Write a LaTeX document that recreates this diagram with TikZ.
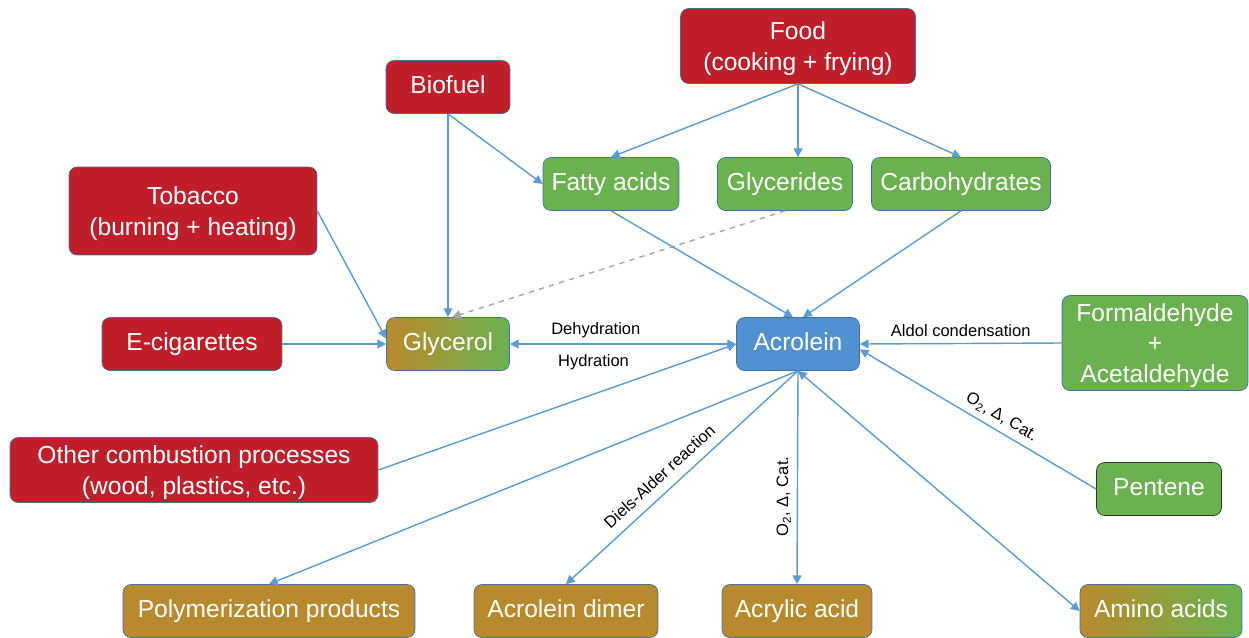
\documentclass[tikz,border=0pt]{standalone}
\usepackage{fontspec}
\setmainfont{Liberation Sans}
\usetikzlibrary{arrows.meta}

\definecolor{srcred}{RGB}{192,31,41}
\definecolor{midgreen}{RGB}{106,178,80}
\definecolor{prodgold}{RGB}{185,138,45}
\definecolor{acroblue}{RGB}{82,145,209}
\definecolor{lineblue}{RGB}{91,155,213}
\definecolor{edgeblue}{RGB}{65,113,156}

\begin{document}
\begin{tikzpicture}[x=0.02cm,y=-0.02cm]

\tikzstyle{boxnode} = [draw=edgeblue,thin,rounded corners=0.16cm,text=white,align=center,font=\fontsize{14}{17.5}\selectfont,minimum height=1.06cm,inner sep=0pt];
\tikzstyle{oneline} = [text height=0.72em,text depth=0pt];
\tikzstyle{manyline} = [text depth=0pt];
\tikzstyle{sourcenode} = [boxnode,fill=srcred];
\tikzstyle{midnode} = [boxnode,fill=midgreen];
\tikzstyle{productnode} = [boxnode,oneline,fill=prodgold];
\tikzstyle{mixnode} = [boxnode,oneline,left color=prodgold,right color=midgreen];
\tikzstyle{flow} = [-{Triangle[length=5pt,width=5pt]},line width=0.8pt,draw=lineblue];
\tikzstyle{twoflow} = [{Triangle[length=5pt,width=5pt]}-{Triangle[length=5pt,width=5pt]},line width=0.8pt,draw=lineblue];
\tikzstyle{steplabel} = [font=\fontsize{9.4}{11}\selectfont,text=black];

\useasboundingbox (0,0) rectangle (1249,637);

% sources
\node [sourcenode,manyline,minimum width=4.7cm,minimum height=1.5cm] (food) at (798,46) {Food\\(cooking + frying)};
\node [sourcenode,oneline,minimum width=2.48cm] (biofuel) at (448,87) {Biofuel};
\node [sourcenode,manyline,minimum width=4.96cm,minimum height=1.76cm] (tobacco) at (193,211) {Tobacco\\(burning + heating)};
\node [sourcenode,oneline,minimum width=3.6cm] (ecig) at (192,344) {E-cigarettes};
\node [sourcenode,manyline,minimum width=7.36cm,minimum height=1.3cm] (combust) at (194,470) {Other combustion processes\\(wood, plastics, etc.)};

% precursors
\node [midnode,oneline,minimum width=2.72cm] (fatty) at (611,184) {Fatty acids};
\node [midnode,oneline,minimum width=2.7cm] (glycerides) at (785,184) {Glycerides};
\node [midnode,oneline,minimum width=3.58cm] (carbo) at (961,184) {Carbohydrates};
\node [mixnode,minimum width=2.46cm] (glycerol) at (448,344) {Glycerol};
\node [boxnode,oneline,fill=acroblue,minimum width=2.46cm] (acrolein) at (798,344) {Acrolein};
\node [midnode,manyline,minimum width=3.72cm,minimum height=1.9cm] (formal) at (1155,343) {Formaldehyde\\+\\Acetaldehyde};
\node [midnode,oneline,draw=black!80,minimum width=2.5cm] (pentene) at (1159,489) {Pentene};

% products
\node [productnode,minimum width=5.84cm] (polymer) at (269,611) {Polymerization products};
\node [productnode,minimum width=3.68cm] (dimer) at (566,611) {Acrolein dimer};
\node [productnode,minimum width=3cm] (acrylic) at (797,611) {Acrylic acid};
\node [mixnode,minimum width=3.24cm] (amino) at (1161,611) {Amino acids};

\draw [flow] (food.south) -- (fatty.north);
\draw [flow] (food.south) -- (food.south |- glycerides.north);
\draw [flow] (food.south) -- (carbo.north);
\draw [flow] (biofuel.south) -- (glycerol.north);
\draw [flow] (biofuel.south) -- (fatty.west);
\draw [flow] (tobacco.east) -- (glycerol.175);
\draw [flow] (ecig.east) -- (glycerol.west);
\draw [-{Triangle[length=5pt,width=5pt]},line width=0.8pt,draw=gray!70,dashed] (glycerides.south) -- ([xshift=0.08cm]glycerol.north);
\draw [flow] (fatty.south) -- ([xshift=-0.1cm]acrolein.north);
\draw [flow] (carbo.south) -- ([xshift=0.1cm]acrolein.north);

\draw [twoflow] (glycerol.east) -- (acrolein.west)
  node [steplabel,pos=0.38,above] (dehyd) {Dehydration}
  node [steplabel,pos=0.37,below=2pt] (hyd) {Hydration};
\draw [flow] (formal.west) -- (acrolein.east)
  node [steplabel,midway,above] (aldol) {Aldol condensation};
\draw [flow] (pentene.west) -- (acrolein.-5)
  node [steplabel,pos=0.43,sloped,above] (oxpent) {O\textsubscript{2}, Δ, Cat.};
\draw [flow] (combust.east) -- (acrolein.west);

\draw [flow] (acrolein.south) -- (polymer.north);
\draw [flow] (acrolein.south) -- (dimer.north)
  node [steplabel,pos=0.55,sloped,above=2pt] (diels) {Diels-Alder reaction};
\draw [flow] (acrolein.south) -- (acrylic.north)
  node [steplabel,pos=0.59,rotate=90,anchor=south] (oxacr) {O\textsubscript{2}, Δ, Cat.};
\draw [twoflow] (acrolein.south) -- (amino.west);

\end{tikzpicture}
\end{document}
